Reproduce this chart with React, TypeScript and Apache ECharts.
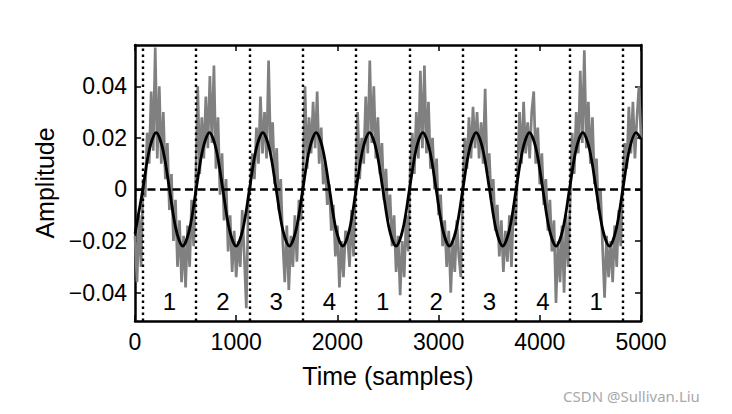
import React, { useEffect, useRef } from "react";
import * as echarts from "echarts";

const SAMPLE_STEP = 20;
const SIGNAL = [
  -0.018, -0.036, -0.010, -0.030,
  0.004, -0.003, 0.022, 0.010, 0.038, 0.015, 0.055, 0.012, 0.040, 0.010, 0.030, 0.004, 0.018, -0.008, 0.006, -0.020, -0.004, -0.030, -0.012, -0.036, -0.018, -0.038, -0.014, -0.030, -0.004, -0.022, 0.002,
  0.040, 0.006, 0.028, 0.012, 0.036, 0.016, 0.044, 0.018, 0.048, 0.008, 0.028, -0.002, 0.014, -0.012, 0.004, -0.024, -0.010, -0.032, -0.016, -0.034, -0.020, -0.030, -0.008, -0.026, -0.046, -0.004,
  0.002, 0.014, 0.004, 0.024, 0.010, 0.036, 0.014, 0.030, 0.012, 0.050, 0.014, 0.026, 0.002, 0.016, -0.008, 0.004, -0.020, -0.036, -0.014, -0.039, -0.018, -0.030, -0.010, -0.028, -0.004, -0.012,
  0.004, 0.040, 0.008, 0.028, 0.014, 0.034, 0.016, 0.038, 0.010, 0.024, 0.002, 0.010, -0.006, 0.002, -0.016, -0.006, -0.026, -0.014, -0.038, -0.020, -0.034, -0.016, -0.018, -0.030, -0.008, -0.026, 0.002,
  0.030, 0.004, 0.020, 0.010, 0.036, 0.014, 0.050, 0.018, 0.040, 0.012, 0.028, 0.006, 0.018, -0.004, 0.008, -0.012, -0.002, -0.022, -0.010, -0.032, -0.018, -0.041, -0.020, -0.034, -0.010, -0.024,
  0.008, 0.022, 0.006, 0.030, 0.012, 0.046, 0.016, 0.048, 0.014, 0.034, 0.008, 0.020, 0.000, 0.012, -0.010, -0.002, -0.022, -0.012, -0.030, -0.016, -0.040, -0.020, -0.032, -0.012, -0.026, -0.034,
  0.002, 0.020, 0.008, 0.028, 0.012, 0.032, 0.016, 0.030, 0.012, 0.026, 0.010, 0.039, 0.006, 0.014, -0.004, 0.004, -0.016, -0.006, -0.026, -0.012, -0.032, -0.016, -0.028, -0.010, -0.030, -0.006, -0.014,
  0.006, 0.030, 0.010, 0.034, 0.014, 0.026, 0.012, 0.030, 0.038, 0.010, 0.024, 0.002, 0.014, -0.006, 0.004, -0.016, -0.004, -0.024, -0.012, -0.044, -0.020, -0.036, -0.014, -0.040, -0.010, -0.030,
  -0.004, 0.022, 0.006, 0.030, 0.014, 0.046, 0.018, 0.054, 0.016, 0.034, 0.010, 0.028, 0.002, 0.012, -0.008, 0.000, -0.022, -0.042, -0.018, -0.034, -0.020, -0.036, -0.014, -0.030, -0.008, -0.022,
  0.002, 0.018, 0.008, 0.032, 0.014, 0.034, 0.012, 0.028, 0.040, 0.020,
];

// Fitted sinusoid, knots (sample, amplitude)
const FIT_T = [
  0, 77, 143, 209, 275, 341, 406, 472, 538,
  604, 670, 736, 802, 868, 933, 999, 1065,
  1131, 1197, 1263, 1329, 1395, 1460, 1526, 1592,
  1658, 1724, 1790, 1856, 1922, 1987, 2053, 2119,
  2185, 2251, 2317, 2383, 2449, 2514, 2580, 2646,
  2712, 2778, 2844, 2910, 2976, 3041, 3107, 3173,
  3239, 3305, 3371, 3437, 3503, 3568, 3634, 3700,
  3766, 3832, 3898, 3964, 4030, 4095, 4161, 4227,
  4293, 4359, 4425, 4491, 4557, 4622, 4688, 4754,
  4820, 4886, 4952, 5000,
];
const FIT_V = [
  -0.0172, 0, 0.0156, 0.022, 0.0156, 0, -0.0156, -0.022, -0.0156,
  0, 0.0156, 0.022, 0.0156, 0, -0.0156, -0.022, -0.0156,
  0, 0.0156, 0.022, 0.0156, 0, -0.0156, -0.022, -0.0156,
  0, 0.0156, 0.022, 0.0156, 0, -0.0156, -0.022, -0.0156,
  0, 0.0156, 0.022, 0.0156, 0, -0.0156, -0.022, -0.0156,
  0, 0.0156, 0.022, 0.0156, 0, -0.0156, -0.022, -0.0156,
  0, 0.0156, 0.022, 0.0156, 0, -0.0156, -0.022, -0.0156,
  0, 0.0156, 0.022, 0.0156, 0, -0.0156, -0.022, -0.0156,
  0, 0.0156, 0.022, 0.0156, 0, -0.0156, -0.022, -0.0156,
  0, 0.0156, 0.022, 0.0195,
];

const BOUNDARIES = [77, 604, 1131, 1658, 2185, 2712, 3239, 3766, 4293, 4820];
const SEGMENT_T = [340, 868, 1394, 1922, 2448, 2976, 3502, 4030, 4556];
const SEGMENT_LABELS = ["1", "2", "3", "4", "1", "2", "3", "4", "1"];
const SEGMENT_Y = -0.0435;
const ZERO_LINE_T = [0, 5000];
const Y_TICKS = [-0.04, -0.02, 0, 0.02, 0.04];
const X_MIN = 0;
const X_MAX = 5000;
const X_STEP = 1000;
const Y_MIN = -0.051;
const Y_MAX = 0.056;

const FONT = '"Liberation Sans", Arial, Helvetica, sans-serif';

function fmtY(v: number) {
  if (Math.abs(v) < 1e-9) return "0";
  return (v < 0 ? "\u2212" : "") + Math.abs(v).toFixed(2);
}

export default function App() {
  const ref = useRef<HTMLDivElement>(null);
  useEffect(() => {
    if (!ref.current) return;
    const chart = echarts.init(ref.current, undefined, { renderer: "svg" });
    const axisLine = { show: true, onZero: false, lineStyle: { color: "#000", width: 2.5 } };
    const tick = { show: true, inside: true, length: 6, lineStyle: { color: "#000", width: 1.5 } };
    const option: any = {
      animation: false,
      backgroundColor: "#fff",
      grid: { left: 135, top: 45, width: 506, height: 276, containLabel: false },
      xAxis: [
        {
          type: "value",
          min: X_MIN,
          max: X_MAX,
          interval: X_STEP,
          position: "bottom",
          axisLine,
          axisTick: tick,
          splitLine: { show: false },
          axisLabel: {
            color: "#000",
            fontSize: 23,
            fontFamily: FONT,
            margin: 9,
            formatter: (v: number) => String(v),
          },
          name: "Time (samples)",
          nameLocation: "middle",
          nameGap: 42,
          nameTextStyle: { color: "#000", fontSize: 25, fontFamily: FONT, verticalAlign: "top" },
        },
        {
          type: "value",
          min: X_MIN,
          max: X_MAX,
          interval: X_STEP,
          position: "top",
          axisLine,
          axisTick: tick,
          splitLine: { show: false },
          axisLabel: { show: false },
        },
      ],
      yAxis: [
        {
          type: "value",
          min: Y_MIN,
          max: Y_MAX,
          position: "left",
          axisLine,
          axisTick: { ...tick, customValues: Y_TICKS },
          splitLine: { show: false },
          axisLabel: {
            color: "#000",
            fontSize: 23,
            fontFamily: FONT,
            margin: 8,
            customValues: Y_TICKS,
            formatter: (v: number) => fmtY(v),
          },
          name: "Amplitude",
          nameLocation: "middle",
          nameRotate: 90,
          nameGap: 76,
          nameTextStyle: { color: "#000", fontSize: 25, fontFamily: FONT },
        },
        {
          type: "value",
          min: Y_MIN,
          max: Y_MAX,
          position: "right",
          axisLine,
          axisTick: { ...tick, customValues: Y_TICKS },
          splitLine: { show: false },
          axisLabel: { show: false },
        },
      ],
      series: [
        {
          type: "line",
          name: "signal",
          data: SIGNAL.map((v, i) => [i * SAMPLE_STEP, v]),
          showSymbol: false,
          symbol: "none",
          lineStyle: { color: "#808080", width: 2.7, join: "miter", miterLimit: 3 },
          z: 1,
          silent: true,
          markLine: {
            silent: true,
            symbol: "none",
            label: { show: false },
            lineStyle: { color: "#000", width: 2.4, type: [2.4, 3.6] },
            data: BOUNDARIES.map((t) => ({ xAxis: t })),
          },
        },
        {
          type: "line",
          name: "zero",
          data: ZERO_LINE_T.map((t) => [t, 0]),
          showSymbol: false,
          symbol: "none",
          lineStyle: { color: "#000", width: 2.4, type: [8, 4.5] },
          z: 2,
          silent: true,
        },
        {
          type: "line",
          name: "fit",
          data: FIT_T.map((t, i) => [t, FIT_V[i]]),
          smooth: 0.33,
          showSymbol: false,
          symbol: "none",
          lineStyle: { color: "#000", width: 2.8 },
          z: 3,
          silent: true,
        },
        {
          type: "scatter",
          name: "segments",
          data: SEGMENT_T.map((t, i) => ({ value: [t, SEGMENT_Y], name: SEGMENT_LABELS[i] })),
          symbolSize: 0,
          silent: true,
          z: 4,
          itemStyle: { opacity: 1 },
          label: {
            show: true,
            position: "inside",
            formatter: (p: any) => p.name,
            color: "#000",
            fontSize: 24,
            fontFamily: FONT,
          },
        },
      ],
      graphic: [
        {
          type: "text",
          left: 563,
          top: 388,
          style: {
            text: "CSDN @Sullivan.Liu",
            fill: "#a8a8a8",
            font: '15px "Noto Sans", sans-serif',
          },
        },
      ],
    };
    chart.setOption(option);
    return () => chart.dispose();
  }, []);
  return (
    <div
      ref={ref}
      style={{ position: "fixed", left: 0, top: 0, width: 732, height: 414, background: "#fff" }}
    />
  );
}
